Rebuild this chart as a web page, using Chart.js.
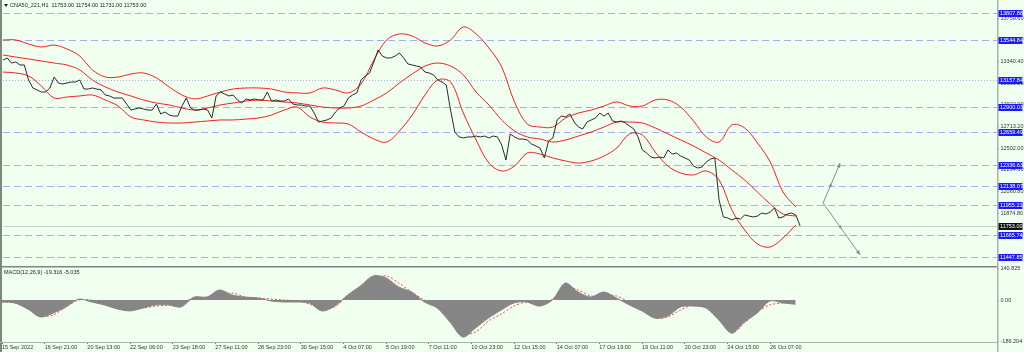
<!DOCTYPE html>
<html>
<head>
<meta charset="utf-8">
<script src="https://cdn.jsdelivr.net/npm/chart.js@4/dist/chart.umd.min.js"></script>
<style>
  html, body { margin: 0; padding: 0; background: #f0fff0; }
  #wrap { position: relative; width: 1024px; height: 352px; overflow: hidden; background: #f0fff0; }
  canvas { position: absolute; left: 0; }
  #main { top: 0; }
  #macd { top: 260px; }
</style>
</head>
<body>
<div id="wrap">
  <canvas id="main" width="1024" height="266"></canvas>
  <canvas id="macd" width="1024" height="92"></canvas>
</div>
<script>
// CNA50 H1 - close prices, one value per sample (10 samples between time labels)
const closes = [
  13354, 13374, 13325, 13335, 13306, 13306, 13161, 13084, 13065, 13045,
  13045, 13084, 13190, 13132, 13123, 13132, 13142, 13142, 13161, 13074,
  13074, 13084, 13074, 13065, 13016, 13007, 12987, 12987, 12987, 12929,
  12871, 12881, 12891, 12881, 12871, 12871, 12929, 12833, 12852, 12823,
  12813, 12813, 12910, 12987, 12891, 12871, 12871, 12881, 12871, 12794,
  13007, 13045, 13026, 13007, 13016, 12968, 12939, 12978, 12968, 12978,
  12968, 12968, 13045, 12958, 12968, 12958, 12958, 12978, 12929, 12920,
  12920, 12910, 12910, 12842, 12755, 12765, 12775, 12794, 12852, 12891,
  12910, 12987, 13016, 13036, 13161, 13200, 13229, 13335, 13451, 13393,
  13374, 13374, 13393, 13422, 13374, 13316, 13306, 13296, 13287, 13238,
  13229, 13210, 13161, 13142, 13113, 12871, 12659, 12611, 12601, 12611,
  12611, 12620, 12611, 12620, 12601, 12620, 12611, 12533, 12388, 12640,
  12611, 12591, 12591, 12582, 12543, 12524, 12504, 12408, 12572, 12601,
  12775, 12813, 12804, 12833, 12755, 12707, 12688, 12755, 12775, 12794,
  12842, 12813, 12842, 12765, 12755, 12765, 12746, 12717, 12688, 12611,
  12485, 12456, 12417, 12408, 12417, 12408, 12485, 12446, 12456, 12427,
  12408, 12388, 12330, 12311, 12321, 12369, 12398, 12408, 12002, 11838,
  11828, 11809, 11828, 11818, 11857, 11847, 11838, 11847, 11876, 11867,
  11886, 11925, 11828, 11838, 11867, 11876, 11857, 11753
];

// Bollinger bands and MACD, one value every BAND_STEP samples
const BAND_STEP = 3;
const upperBand = [
  13548, 13548, 13509, 13480, 13499, 13461, 13393, 13258, 13190, 13190,
  13219, 13229, 13181, 13094, 13016, 12978, 13007, 13045, 13074, 13084,
  13084, 13074, 13045, 13036, 13036, 13084, 13065, 13036, 13123, 13354,
  13548, 13606, 13586, 13519, 13490, 13548, 13673, 13606, 13470, 13287,
  12949, 12736, 12707, 12707, 12794, 12842, 12871, 12910, 12949, 12910,
  12910, 12968, 12968, 12900, 12765, 12611, 12562, 12727, 12698, 12553,
  12369, 12079, 11934
];
const middleBand = [
  13403, 13383, 13364, 13345, 13325, 13306, 13258, 13161, 13094, 13045,
  13007, 12968, 12939, 12920, 12891, 12871, 12891, 12920, 12939, 12958,
  12968, 12958, 12949, 12939, 12920, 12900, 12891, 12891, 12910, 12968,
  13036, 13132, 13219, 13296, 13325, 13296, 13210, 13045, 12920, 12775,
  12669, 12611, 12591, 12562, 12582, 12620, 12659, 12707, 12755, 12755,
  12746, 12698, 12640, 12582, 12524, 12456, 12388, 12292, 12195, 12079,
  11963, 11867, 11847
];
const lowerBand = [
  13238, 13229, 13200, 13103, 12987, 12997, 13007, 13016, 12968, 12910,
  12804, 12775, 12755, 12746, 12746, 12755, 12765, 12775, 12775, 12784,
  12794, 12823, 12871, 12900, 12804, 12755, 12746, 12736, 12659, 12591,
  12562, 12669, 12823, 13016, 13161, 13142, 12842, 12582, 12359, 12282,
  12330, 12456, 12446, 12408, 12379, 12359, 12379, 12427, 12504, 12640,
  12630, 12466, 12330, 12263, 12244, 12282, 12195, 11905, 11712, 11577,
  11548, 11635, 11760
];
const macdMain = [
  -9, -13, -40, -76, -58, -31, 4, -9, -22, -40,
  -49, -36, -22, -22, -31, 13, 13, 45, 22, 13,
  9, -4, -9, -9, -13, -49, -27, 22, 63, 108,
  99, 58, 36, -9, -36, -99, -166, -125, -81, -45,
  -13, -9, -27, 0, 76, 36, 13, 36, 9, -22,
  -49, -81, -72, -31, -27, -36, -90, -148, -99, -58,
  -4, -13, -19
];
const macdSignal = [
  -9, -13, -36, -72, -67, -31, 0, 0, -13, -27,
  -40, -36, -27, -22, -13, 9, 13, 22, 31, 13,
  9, 4, 0, -4, -18, -40, -31, 18, 54, 94,
  108, 76, 36, 0, -27, -67, -152, -143, -94, -63,
  -27, -9, -27, 4, 58, 45, 18, 22, 18, -9,
  -31, -81, -76, -45, -22, -27, -45, -148, -103, -54,
  -22, -13, -5
];

// Axis ticks
const timeLabels = [
  '15 Sep 2022', '16 Sep 21:00', '20 Sep 13:00', '22 Sep 06:00', '23 Sep 18:00',
  '27 Sep 11:00', '28 Sep 23:00', '30 Sep 15:00', '4 Oct 07:00', '5 Oct 19:00',
  '7 Oct 11:00', '10 Oct 23:00', '12 Oct 15:00', '14 Oct 07:00', '17 Oct 19:00',
  '19 Oct 11:00', '20 Oct 23:00', '24 Oct 15:00', '26 Oct 07:00'
];
const LABEL_EVERY = 10;
const priceTicks = [13759.60, 13550.00, 13340.40, 13131.20, 12922.00, 12713.20, 12502.00, 12294.00, 12080.80, 11874.80, 11665.70, 11457.60];
const macdTicks = [140.825, 0, -186.204];

// Horizontal levels drawn on the chart
const levelPrices = [13807.88, 13544.84, 13157.84, 12900.03, 12659.49, 12336.63, 12138.07, 11955.21, 11665.74, 11447.85];
const dottedLevel = 13157.84;
const bidPrice = 11753.00;

// Projection arrows (sample position, price)
const arrowX = [192.4, 196.4, 201.1];
const arrowPrice = [11973, 12359, 11471];

const header = 'CNA50_221,H1  11753.00 11754.00 11731.00 11753.00';
const macdTitle = 'MACD(12,26,9) -19.316 -5.035';

// ---------------------------------------------------------------
const X_MAX = 233.2;
const FONT = { family: 'Liberation Sans, Arial, sans-serif', size: 5.5 };
const AXIS_W = 27;

// price at the top edge of the window and price per pixel (page coordinates)
const PRICE_TOP = 13934, PRICE_PER_PX = 9.66;
// MACD zero row on the page and value per pixel
const MACD_ZERO_Y = 300, MACD_PER_PX = 4.48, MACD_CANVAS_TOP = 260;

const pts = (arr, step) => arr.map((v, i) => ({ x: i * step, y: v }));

function fixedTicks(values){
  return (scale) => { scale.ticks = values.map(v => ({ value: v })); };
}

function drawArrowHead(ctx, x0, y0, x1, y1, size){
  const ang = Math.atan2(y1 - y0, x1 - x0);
  ctx.beginPath();
  ctx.moveTo(x1, y1);
  ctx.lineTo(x1 - size * Math.cos(ang - 0.4), y1 - size * Math.sin(ang - 0.4));
  ctx.lineTo(x1 - size * Math.cos(ang + 0.4), y1 - size * Math.sin(ang + 0.4));
  ctx.closePath();
  ctx.fill();
}

function valueBox(ctx, text, x, y, bg){
  ctx.fillStyle = bg;
  ctx.fillRect(x, Math.round(y) - 3, 24, 7);
  ctx.fillStyle = '#ffffff';
  ctx.textAlign = 'left';
  ctx.textBaseline = 'middle';
  ctx.fillText(text, x + 1.5, Math.round(y) + 0.5);
}

const mainDecor = {
  id: 'mainDecor',
  beforeDatasetsDraw(chart){
    const { ctx, chartArea: a, scales: { y } } = chart;
    ctx.save();
    ctx.lineWidth = 1;
    for(const v of levelPrices){
      const py = Math.round(y.getPixelForValue(v)) + 0.5;
      ctx.strokeStyle = '#a3aef2';
      ctx.setLineDash(v === dottedLevel ? [1, 2] : [7, 4]);
      ctx.beginPath(); ctx.moveTo(a.left, py); ctx.lineTo(a.right, py); ctx.stroke();
    }
    ctx.setLineDash([]);
    const by = Math.round(y.getPixelForValue(bidPrice)) + 0.5;
    ctx.strokeStyle = '#c8cfc8';
    ctx.beginPath(); ctx.moveTo(a.left, by); ctx.lineTo(a.right, by); ctx.stroke();
    ctx.restore();
  },
  afterDraw(chart){
    const { ctx, chartArea: a, scales: { y } } = chart;
    ctx.save();
    // arrow heads
    ctx.fillStyle = '#8a8a8a';
    for(const idx of [5, 6]){
      const p = chart.getDatasetMeta(idx).data;
      drawArrowHead(ctx, p[0].x, p[0].y, p[1].x, p[1].y, 5);
      const mx = (p[0].x + p[1].x) / 2, my = (p[0].y + p[1].y) / 2;
      drawArrowHead(ctx, p[0].x, p[0].y, mx, my, 4);
    }
    // frame
    ctx.fillStyle = '#7d857d';
    ctx.fillRect(0, 0, 2, chart.height);
    ctx.fillStyle = '#a9b3a9';
    ctx.fillRect(a.right, 0, 1.5, chart.height);
    // level boxes
    ctx.font = `${FONT.size}px ${FONT.family}`;
    for(const v of levelPrices){
      valueBox(ctx, v.toFixed(2), a.right + 1.5, y.getPixelForValue(v), '#1a1aff');
    }
    valueBox(ctx, bidPrice.toFixed(2), a.right + 1.5, y.getPixelForValue(bidPrice), '#111111');
    // header
    ctx.fillStyle = '#222';
    ctx.beginPath();
    ctx.moveTo(4, 4); ctx.lineTo(8, 4); ctx.lineTo(6, 7); ctx.closePath(); ctx.fill();
    ctx.textAlign = 'left';
    ctx.textBaseline = 'middle';
    ctx.fillText(header, 10, 5.5);
    ctx.restore();
  }
};

const macdDecor = {
  id: 'macdDecor',
  afterDraw(chart){
    const { ctx, chartArea: a } = chart;
    ctx.save();
    ctx.fillStyle = '#7d857d';
    ctx.fillRect(0, a.top - 2, a.right, 1.5);
    ctx.fillRect(0, 0, 2, chart.height);
    ctx.fillStyle = '#a9b3a9';
    ctx.fillRect(a.right, a.top - 2, 1.5, chart.height);
    ctx.fillRect(0, a.bottom, a.right, 1);
    ctx.fillStyle = '#222';
    ctx.font = `${FONT.size}px ${FONT.family}`;
    ctx.textAlign = 'left';
    ctx.textBaseline = 'middle';
    ctx.fillText(macdTitle, 4, a.top + 4);
    ctx.restore();
  }
};

const mainChart = new Chart(document.getElementById('main'), {
  type: 'line',
  data: {
    datasets: [
      { data: pts(closes, 1), borderColor: '#2a2a2a', borderWidth: 1, pointRadius: 0, tension: 0, order: 1 },
      { data: pts(upperBand, BAND_STEP), borderColor: '#f51f1f', borderWidth: 1, pointRadius: 0, tension: 0.35, order: 2 },
      { data: pts(middleBand, BAND_STEP), borderColor: '#f51f1f', borderWidth: 1, pointRadius: 0, tension: 0.35, order: 2 },
      { data: pts(lowerBand, BAND_STEP), borderColor: '#f51f1f', borderWidth: 1, pointRadius: 0, tension: 0.35, order: 2 },
      { data: [], order: 3 },
      { data: [{ x: arrowX[0], y: arrowPrice[0] }, { x: arrowX[1], y: arrowPrice[1] }], borderColor: '#8a8a8a', borderWidth: 1, pointRadius: 0, order: 3 },
      { data: [{ x: arrowX[0], y: arrowPrice[0] }, { x: arrowX[2], y: arrowPrice[2] }], borderColor: '#8a8a8a', borderWidth: 1, pointRadius: 0, order: 3 }
    ]
  },
  options: {
    responsive: false,
    animation: false,
    devicePixelRatio: 1,
    layout: { padding: { left: 2, right: 0, top: 0, bottom: 1 } },
    plugins: { legend: { display: false }, tooltip: { enabled: false } },
    scales: {
      x: { type: 'linear', display: false, min: 0, max: X_MAX },
      y: {
        position: 'right',
        min: 11374, max: 13934,
        afterBuildTicks: fixedTicks(priceTicks),
        afterFit: (s) => { s.width = AXIS_W; },
        ticks: { autoSkip: false, font: FONT, color: '#333', padding: 1.5, callback: (v) => Number(v).toFixed(2) },
        grid: { display: true, drawOnChartArea: false, tickLength: 2, color: '#777' },
        border: { display: false }
      }
    }
  },
  plugins: [mainDecor]
});

const macdChart = new Chart(document.getElementById('macd'), {
  type: 'line',
  data: {
    datasets: [
      { data: pts(macdMain, BAND_STEP), borderColor: '#858585', backgroundColor: 'rgba(128,128,128,0.95)', fill: 'origin', borderWidth: 1, pointRadius: 0, tension: 0.3 },
      { data: pts(macdSignal, BAND_STEP), borderColor: '#ff3a3a', borderDash: [2, 2], borderWidth: 1, pointRadius: 0, tension: 0.3, fill: false }
    ]
  },
  options: {
    responsive: false,
    animation: false,
    devicePixelRatio: 1,
    layout: { padding: { left: 2, right: 0, top: 8, bottom: 0 } },
    plugins: { legend: { display: false }, tooltip: { enabled: false } },
    scales: {
      x: {
        type: 'linear', min: 0, max: X_MAX,
        afterBuildTicks: (s) => { s.ticks = timeLabels.map((t, k) => ({ value: k * LABEL_EVERY })); },
        afterFit: (s) => { s.height = 10; },
        ticks: { autoSkip: false, maxRotation: 0, align: 'start', font: FONT, color: '#333', padding: 0,
                 callback: (v, i) => timeLabels[i] },
        grid: { display: true, drawOnChartArea: false, tickLength: 2, color: '#777' },
        border: { display: false }
      },
      y: {
        position: 'right',
        min: -188, max: 143,
        afterBuildTicks: fixedTicks(macdTicks),
        afterFit: (s) => { s.width = AXIS_W; },
        ticks: { autoSkip: false, font: FONT, color: '#333', padding: 1.5,
                 callback: (v) => v === 0 ? '0.00' : String(v) },
        grid: { display: true, drawOnChartArea: false, tickLength: 2, color: '#777' },
        border: { display: false }
      }
    }
  },
  plugins: [macdDecor]
});

// match the value ranges to the plot areas that the layout produced
(function fitRanges(){
  const a = mainChart.chartArea;
  mainChart.options.scales.y.min = PRICE_TOP - PRICE_PER_PX * a.bottom;
  mainChart.options.scales.y.max = PRICE_TOP - PRICE_PER_PX * a.top;
  mainChart.update();
  const m = macdChart.chartArea;
  macdChart.options.scales.y.min = (MACD_ZERO_Y - (MACD_CANVAS_TOP + m.bottom)) * MACD_PER_PX;
  macdChart.options.scales.y.max = (MACD_ZERO_Y - (MACD_CANVAS_TOP + m.top)) * MACD_PER_PX;
  macdChart.update();
})();
</script>
</body>
</html>
